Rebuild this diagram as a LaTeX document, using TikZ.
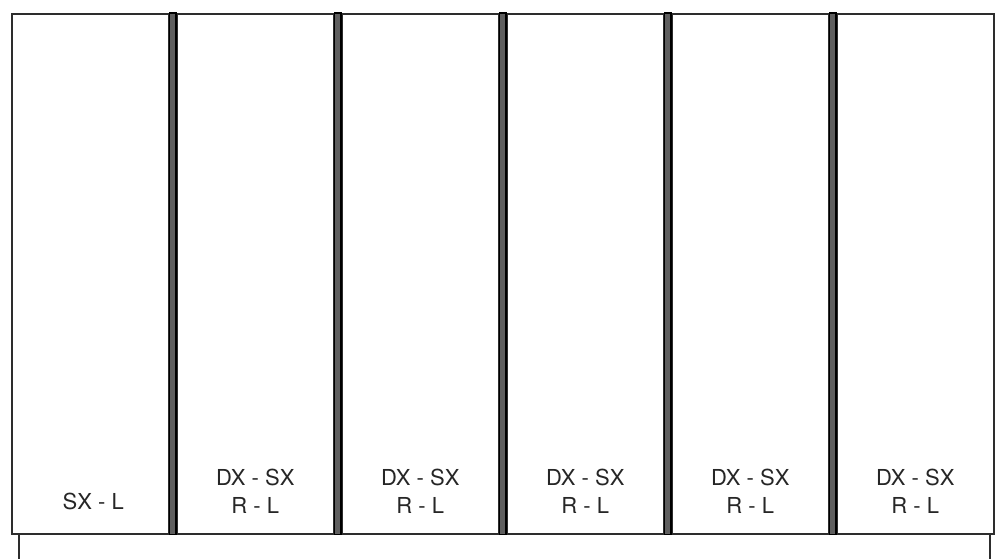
\documentclass[tikz,border=0pt]{standalone}
\usepackage{fontspec}
\setmainfont{TeX Gyre Heros}
\usepackage{tikz}
\usetikzlibrary{positioning}
\definecolor{edge}{RGB}{45,45,45}
\definecolor{strip}{RGB}{95,95,95}

\begin{document}
\begin{tikzpicture}[x=1pt, y=1pt,
    panel/.style={draw=edge, line width=1.6pt, fill=white,
      minimum width=157pt, minimum height=520pt, anchor=north west,
      inner sep=0pt},
    sepstrip/.style={fill=strip, draw=black, line width=1.2pt},
    lbl/.style={font=\fontsize{22}{28}\selectfont, align=center,
      inner sep=0pt, text=black!85}]
  \useasboundingbox (0,0) rectangle (995,558);
  % base plate under the panels
  \node[draw=edge, line width=1.6pt, minimum width=971pt,
        minimum height=60pt, anchor=north west, inner sep=0pt]
    (base) at (18,25) {};
  % the six panels
  \foreach \i in {1,...,6} {
    \pgfmathsetmacro{\px}{11 + (\i-1)*165}
    \node[panel] (p\i) at (\px,545) {};
  }
  % dark strips between panels
  \foreach \i/\j in {1/2, 2/3, 3/4, 4/5, 5/6} {
    \draw[sepstrip] (p\i.north east) rectangle (p\j.south west);
  }
  % labels
  \node[lbl, above=25pt of p1.south, xshift=3pt] (t1) {SX - L};
  \foreach \i in {2,...,6} {
    \node[lbl, above=21pt of p\i.south] (t\i) {DX - SX\\R - L};
  }
\end{tikzpicture}
\end{document}
